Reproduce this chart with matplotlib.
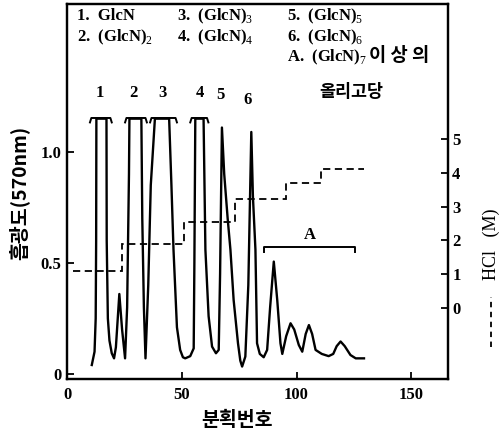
import matplotlib
matplotlib.use('Agg')
import matplotlib.pyplot as plt

# fraction number vs absorbance (570 nm)
frac = [10.8, 12.0, 12.5, 12.7, 12.8, 17.2, 17.3, 17.8, 18.5, 19.5, 20.5, 21.3, 22.8,
        24.0, 25.3, 26.2, 27.0, 27.2, 32.4, 32.8, 33.5, 34.2, 35.4, 36.5, 38.3,
        44.5, 45.5, 46.4, 47.9, 49.3, 50.5, 51.5, 53.7, 55.2, 55.5, 55.9, 59.5,
        60.3, 61.7, 63.2, 64.9, 66.1, 66.7, 67.5, 68.5, 70.0, 71.2, 72.6, 74.5, 75.5,
        76.3, 77.7, 79.0, 80.3, 81.0, 82.1, 82.8, 84.0, 85.7, 87.2, 88.5, 90.1,
        91.6, 93.0, 93.8, 95.5, 97.4, 99.0, 101.0, 102.5, 104.0, 105.4, 106.8,
        108.3, 111.0, 114.0, 116.0, 117.5, 119.2, 121.0, 123.5, 125.8, 129.4]
absorb = [0.04, 0.10, 0.25, 0.60, 1.15, 1.15, 0.60, 0.25, 0.15, 0.093, 0.07, 0.12, 0.36,
          0.20, 0.07, 0.30, 0.90, 1.15, 1.15, 0.70, 0.30, 0.07, 0.40, 0.85, 1.15,
          1.15, 0.85, 0.56, 0.21, 0.108, 0.075, 0.07, 0.08, 0.115, 0.50, 1.15, 1.15,
          0.56, 0.26, 0.123, 0.093, 0.108, 0.45, 1.11, 0.90, 0.70, 0.56, 0.333, 0.138, 0.06,
          0.033, 0.078, 0.40, 1.09, 0.80, 0.56, 0.138, 0.09, 0.075, 0.108, 0.30, 0.506,
          0.333, 0.138, 0.09, 0.17, 0.228, 0.20, 0.13, 0.10, 0.18, 0.22, 0.18,
          0.108, 0.09, 0.08, 0.09, 0.125, 0.146, 0.125, 0.085, 0.07, 0.07]

# off-scale peaks (bracket spans)
clip_spans = [(10.0, 19.5), (25.3, 34.8), (36.2, 47.9), (53.7, 61.6)]
clip_top = 1.153

# HCl gradient steps (right axis)
hcl_edges = [2.8, 23.9, 50.8, 73.4, 95.2, 110.5, 129.4]
hcl_levels = [1.09, 1.89, 2.54, 3.22, 3.70, 4.11]

peak_names = ['1', '2', '3', '4', '5', '6']
peak_x = [14.4, 28.8, 41.5, 58.1, 66.8, 78.6]
peak_y = [1.266, 1.266, 1.266, 1.266, 1.257, 1.234]

A_span = (85.7, 125.5)
A_y = 0.573

legend_rows = [
    [(4.4, '1.  GlcN'), (48, '3.  (GlcN)$_3$'), (96, '5.  (GlcN)$_5$')],
    [(4.4, '2.  (GlcN)$_2$'), (48, '4.  (GlcN)$_4$'), (96, '6.  (GlcN)$_6$')],
    [(96, 'A.  (GlcN)$_7$')],
]
legend_y = [1.613, 1.518, 1.428]

serif = ['Liberation Serif', 'Noto Sans CJK KR']
kor = ['Noto Sans CJK KR', 'Liberation Serif']
plt.rcParams['font.family'] = serif
plt.rcParams['mathtext.fontset'] = 'custom'
plt.rcParams['mathtext.rm'] = 'Liberation Serif'

fig = plt.figure(figsize=(5, 4.34), dpi=100)
ax = fig.add_axes([0.134, 0.127, 0.762, 0.864])
ax2 = ax.twinx()

ax.plot(frac, absorb, color='black', lw=1.7, solid_joinstyle='round')
for x0, x1 in clip_spans:
    ax.plot([x0, x0 + 0.6, x1 - 0.6, x1],
            [clip_top - 0.02, clip_top, clip_top, clip_top - 0.02],
            color='black', lw=1.4)

ax.plot([A_span[0], A_span[0], A_span[1], A_span[1]],
        [A_y - 0.025, A_y, A_y, A_y - 0.025], color='black', lw=1.4)
ax.text(sum(A_span) / 2, A_y + 0.015, 'A', ha='center', va='bottom',
        fontsize=12, fontweight='bold')

for name, x, y in zip(peak_names, peak_x, peak_y):
    ax.text(x, y, name, ha='center', va='center', fontsize=12, fontweight='bold')

for row, y in zip(legend_rows, legend_y):
    for x, s in row:
        ax.text(x, y, s, ha='left', va='center', fontsize=12, fontweight='bold')
ax.text(131.5, 1.435, '이 상 의', ha='left', va='center', fontsize=13.5,
        fontweight='bold', family=kor)
ax.text(124, 1.27, '올리고당', ha='center', va='center', fontsize=12.5,
        fontweight='bold', family=kor)

ax2.stairs(hcl_levels, hcl_edges, baseline=None, color='black', lw=1.3,
           linestyle=(0, (4, 2.5)))

ax.set_xlim(0, 166)
ax.set_ylim(-0.0225, 1.667)
ax2.set_ylim(-2.1, 9.0)

ax.set_xticks([0, 50, 100, 150])
ax.set_yticks([0, 0.5, 1.0])
ax.set_yticklabels(['0', '0.5', '1.0'])
ax2.set_yticks([0, 1, 2, 3, 4, 5])

for a in (ax, ax2):
    a.tick_params(direction='in', length=5, width=1.3, labelsize=12)
    for lab in a.get_xticklabels() + a.get_yticklabels():
        lab.set_fontweight('bold')
    for sp in a.spines.values():
        sp.set_linewidth(1.6)
ax.tick_params(axis='x', pad=6)
ax.tick_params(axis='y', pad=4)
ax2.tick_params(axis='y', pad=3)

ax.set_ylabel('흡광도(570nm)', family=kor, fontsize=14, fontweight='bold', va='center')
ax.yaxis.set_label_coords(-0.126, 0.496)
ax.set_xlabel('분획번호', family=kor, fontsize=14, fontweight='bold', va='center')
ax.xaxis.set_label_coords(0.446, -0.112)
ax2.set_ylabel('HCl   (M)', fontsize=13, va='center')
ax2.yaxis.set_label_coords(1.113, 0.36)
# dashed key for the HCl line
ax2.plot([1.113, 1.113], [0.085, 0.219], transform=ax2.transAxes, clip_on=False,
         color='black', lw=1.3, linestyle=(0, (3, 2.5)))

fig.savefig('out.png', dpi=100)
